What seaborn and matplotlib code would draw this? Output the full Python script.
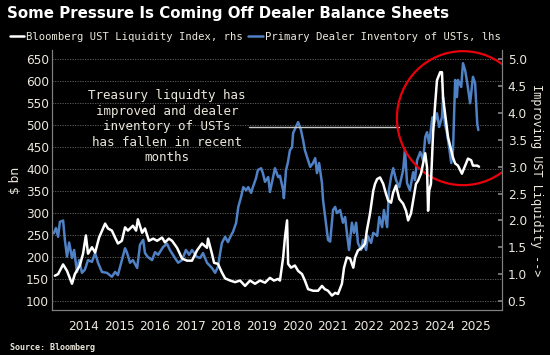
import numpy as np
import pandas as pd
import seaborn as sns
import matplotlib.pyplot as plt
from matplotlib.patches import Ellipse

# --- DATA ---
# Primary Dealer Inventory of USTs, $ bn (left axis)
dealer_year = [
    2013.67, 2013.73, 2013.79, 2013.84, 2013.93, 2013.98, 2014.04, 2014.10, 2014.18, 2014.24,
    2014.32, 2014.38, 2014.46, 2014.54, 2014.63, 2014.74, 2014.83, 2014.91, 2015.02, 2015.16,
    2015.30, 2015.39, 2015.47, 2015.58, 2015.67, 2015.72, 2015.81, 2015.89, 2016.01, 2016.09,
    2016.18, 2016.23, 2016.31, 2016.43, 2016.51, 2016.60, 2016.74, 2016.85, 2016.93, 2017.07,
    2017.16, 2017.27, 2017.38, 2017.47, 2017.55, 2017.69, 2017.78, 2017.86, 2017.97, 2018.11,
    2018.20, 2018.28, 2018.34, 2018.39, 2018.48, 2018.56, 2018.65, 2018.70, 2018.79, 2018.85,
    2018.93, 2018.99, 2019.07, 2019.13, 2019.21, 2019.26, 2019.35, 2019.40, 2019.49, 2019.54,
    2019.60, 2019.69, 2019.74, 2019.79, 2019.88, 2019.97, 2020.02, 2020.11, 2020.13, 2020.19,
    2020.24, 2020.30, 2020.36, 2020.39, 2020.47, 2020.53, 2020.61, 2020.67, 2020.72, 2020.78,
    2020.87, 2020.95, 2021.01, 2021.06, 2021.12, 2021.20, 2021.23, 2021.31, 2021.37, 2021.43,
    2021.51, 2021.57, 2021.62, 2021.71, 2021.79, 2021.85, 2021.90, 2021.96, 2022.04, 2022.10,
    2022.16, 2022.21, 2022.30, 2022.35, 2022.44, 2022.49, 2022.58, 2022.64, 2022.75, 2022.81,
    2022.89, 2022.94, 2023.03, 2023.08, 2023.14, 2023.20, 2023.28, 2023.37, 2023.48, 2023.53,
    2023.59, 2023.67, 2023.76, 2023.81, 2023.87, 2023.96, 2024.04, 2024.10, 2024.15, 2024.21,
    2024.30, 2024.35, 2024.43, 2024.49, 2024.57, 2024.60, 2024.65, 2024.71, 2024.77, 2024.83,
    2024.88, 2024.94, 2024.99, 2025.02, 2025.11, 2025.16, 2025.22, 2025.28, 2025.36, 2025.44,
    2025.50, 2025.56, 2025.59,
]
dealer_bn = [
    254, 266, 246, 280, 283, 239, 201, 233, 198, 216,
    166, 193, 164, 171, 193, 189, 209, 187, 166, 164,
    155, 166, 159, 193, 220, 211, 187, 193, 175, 228,
    239, 209, 200, 193, 211, 205, 223, 230, 216, 198,
    187, 193, 216, 205, 216, 200, 198, 209, 187, 175,
    164, 178, 209, 232, 246, 234, 250, 257, 278, 314,
    337, 359, 352, 359, 346, 359, 380, 398, 402, 391,
    371, 382, 348, 368, 402, 382, 385, 352, 334, 398,
    414, 443, 450, 482, 496, 507, 489, 466, 443, 428,
    405, 414, 425, 391, 414, 368, 330, 278, 239, 235,
    307, 314, 300, 307, 278, 291, 255, 216, 278, 255,
    278, 232, 216, 239, 216, 248, 232, 255, 248, 291,
    268, 307, 268, 352, 382, 402, 375, 359, 398, 443,
    368, 352, 393, 375, 420, 439, 420, 473, 484, 459,
    518, 504, 527, 496, 518, 564, 504, 482, 450, 414,
    443, 603, 564, 603, 587, 641, 625, 596, 550, 610,
    596, 504, 489,
]

# Bloomberg UST Liquidity Index (right axis)
liq_year = [
    2013.70, 2013.79, 2013.93, 2014.04, 2014.18, 2014.26, 2014.40, 2014.49, 2014.57, 2014.63,
    2014.74, 2014.83, 2014.94, 2015.05, 2015.11, 2015.19, 2015.30, 2015.39, 2015.47, 2015.58,
    2015.67, 2015.75, 2015.89, 2015.98, 2016.03, 2016.15, 2016.23, 2016.34, 2016.46, 2016.57,
    2016.71, 2016.79, 2016.90, 2016.99, 2017.13, 2017.27, 2017.41, 2017.55, 2017.69, 2017.83,
    2017.97, 2018.00, 2018.11, 2018.17, 2018.28, 2018.39, 2018.48, 2018.62, 2018.76, 2018.90,
    2019.04, 2019.18, 2019.32, 2019.46, 2019.60, 2019.74, 2019.85, 2019.97, 2020.02, 2020.11,
    2020.16, 2020.22, 2020.25, 2020.33, 2020.44, 2020.53, 2020.64, 2020.72, 2020.81, 2020.95,
    2021.09, 2021.20, 2021.28, 2021.37, 2021.48, 2021.57, 2021.65, 2021.76, 2021.82, 2021.90,
    2021.99, 2022.08, 2022.13, 2022.21, 2022.32, 2022.41, 2022.46, 2022.55, 2022.64, 2022.69,
    2022.75, 2022.83, 2022.92, 2023.00, 2023.06, 2023.14, 2023.20, 2023.28, 2023.37, 2023.48,
    2023.56, 2023.62, 2023.70, 2023.76, 2023.84, 2023.90, 2023.98, 2024.04, 2024.10, 2024.15,
    2024.18, 2024.21, 2024.26, 2024.32, 2024.38, 2024.43, 2024.52, 2024.57, 2024.60, 2024.69,
    2024.74, 2024.83, 2024.88, 2024.94, 2025.02, 2025.13, 2025.22, 2025.30, 2025.39, 2025.44,
    2025.56, 2025.61,
]
liq_index = [
    0.97, 1.00, 1.18, 1.06, 0.82, 1.00, 1.16, 1.38, 1.72, 1.38,
    1.50, 1.40, 1.68, 1.85, 1.94, 1.85, 1.81, 1.68, 1.57, 1.62,
    1.87, 1.81, 1.90, 1.81, 2.02, 1.77, 1.85, 1.62, 1.66, 1.62,
    1.68, 1.59, 1.66, 1.62, 1.49, 1.29, 1.25, 1.25, 1.44, 1.57,
    1.49, 1.66, 1.38, 1.21, 1.19, 1.03, 0.92, 0.88, 0.85, 0.88,
    0.78, 0.88, 0.82, 0.88, 0.84, 0.93, 0.88, 0.91, 0.88, 1.31,
    1.68, 2.00, 1.19, 1.12, 1.16, 1.06, 1.00, 0.88, 0.72, 0.69,
    0.69, 0.78, 0.72, 0.69, 0.60, 0.65, 0.63, 0.82, 1.12, 1.31,
    1.29, 1.12, 1.31, 1.44, 1.49, 1.57, 1.81, 2.13, 2.55, 2.68,
    2.77, 2.80, 2.68, 2.49, 2.37, 2.33, 2.52, 2.65, 2.40, 2.31,
    2.18, 2.00, 2.13, 2.37, 2.68, 2.74, 2.87, 3.06, 3.25, 2.99,
    2.18, 2.55, 2.68, 3.62, 4.18, 4.61, 4.76, 4.76, 4.29, 3.81,
    3.55, 3.30, 3.17, 3.06, 3.02, 2.87, 3.02, 3.15, 3.12, 3.02,
    3.02, 3.00,
]

year_labels = [str(y) for y in range(2014, 2026)]
lhs_ticks = list(range(100, 651, 50))
rhs_ticks = [0.5, 1.0, 1.5, 2.0, 2.5, 3.0, 3.5, 4.0, 4.5, 5.0]

note_text = "Treasury liquidty has\nimproved and dealer\ninventory of USTs\nhas fallen in recent\nmonths"

# --- STYLE ---
BLUE = "#4f81c4"
GREY = "#808080"
TXT = "#ece8dc"
MONO = "DejaVu Sans Mono"

sns.set_theme(style="dark", rc={
    "figure.facecolor": "black",
    "axes.facecolor": "black",
    "axes.edgecolor": GREY,
    "text.color": TXT,
    "xtick.color": GREY,
    "ytick.color": GREY,
    "xtick.labelcolor": TXT,
    "ytick.labelcolor": TXT,
})
plt.rcParams["font.family"] = ["DejaVu Sans"]

dealer = pd.DataFrame({"year": dealer_year, "bn": dealer_bn})
liq = pd.DataFrame({"year": liq_year, "idx": liq_index})

fig = plt.figure(figsize=(5.5, 3.55), dpi=100)
ax = fig.add_axes([0.094, 0.127, 0.819, 0.732])
ax2 = ax.twinx()

sns.lineplot(data=dealer, x="year", y="bn", ax=ax, color=BLUE, lw=1.8,
             label="Primary Dealer Inventory of USTs, lhs", legend=False)
sns.lineplot(data=liq, x="year", y="idx", ax=ax2, color="white", lw=1.8,
             label="Bloomberg UST Liquidity Index, rhs", legend=False)

# axes limits: lhs 100..650 lines up with rhs 0.5..5.0
lhs_lo, lhs_hi = 79.6, 671
ax.set_ylim(lhs_lo, lhs_hi)
ax2.set_ylim(0.5 + (lhs_lo - 100) * 4.5 / 550, 0.5 + (lhs_hi - 100) * 4.5 / 550)
ax.set_xlim(2013.61, 2026.26)

# x ticks: marks at year boundaries, labels mid-year
ax.set_xticks(range(2014, 2027))
ax.set_xticklabels([])
ax.set_xticks([y + 0.5 for y in range(2014, 2026)], minor=True)
ax.set_xticklabels(year_labels, minor=True, fontsize=8.7)
ax.tick_params(axis="x", which="major", length=4, width=0.8, direction="out")
ax.tick_params(axis="x", which="minor", length=0, pad=7)

ax.set_yticks(lhs_ticks)
ax.tick_params(axis="y", length=0, labelsize=8.7, pad=2)
ax2.set_yticks(rhs_ticks)
ax2.set_yticklabels([f"{v:.1f}" for v in rhs_ticks])
ax2.tick_params(axis="y", length=3, direction="in", labelsize=8.7, pad=4)

ax.grid(axis="y", color="#666666", ls=(0, (1.5, 1.5)), lw=0.6)
ax.grid(axis="x", visible=False)
ax2.grid(False)

for a in (ax, ax2):
    a.spines["top"].set_visible(False)
    for s in ("left", "right", "bottom"):
        a.spines[s].set_color(GREY)
        a.spines[s].set_linewidth(0.8)

ax.set_xlabel("")
ax.set_ylabel("$ bn", fontsize=8.7, color=TXT, labelpad=3)
ax2.set_ylabel("Improving UST Liquidity -->", fontsize=8.6, color=TXT,
               family=MONO, rotation=270, labelpad=12)

# annotation and the red circle
ax.plot([2019.15, 2023.37], [496, 496], color="#c8c8c8", lw=1.0, zorder=4)
ax.text(2016.85, 496, note_text, ha="center", va="center", multialignment="center",
        family=MONO, fontsize=9, color=TXT, linespacing=1.25)
circle = Ellipse((2025.16, 516), width=3.71, height=305, fill=False,
                 ec="#e8000b", lw=1.6, zorder=5)
ax.add_patch(circle)
circle.set_clip_path(ax.patch)

# title, legend, source
fig.text(0.013, 0.962, "Some Pressure Is Coming Off Dealer Balance Sheets",
         fontsize=10.8, fontweight="bold", color="white", va="center")
handles = ax2.get_lines()[:1] + ax.get_lines()[:1]
fig.legend(handles=handles, labels=[h.get_label() for h in handles],
           loc="center left", bbox_to_anchor=(0.0, 0.896), ncol=2, frameon=False,
           prop={"family": MONO, "size": 7.6}, handlelength=1.4, handletextpad=0.2,
           columnspacing=0.5, labelcolor=TXT)
fig.text(0.018, 0.022, "Source: Bloomberg", fontsize=6, fontweight="bold",
         color=TXT, va="center", family=MONO)

fig.savefig("out.png", dpi=100, facecolor="black")
